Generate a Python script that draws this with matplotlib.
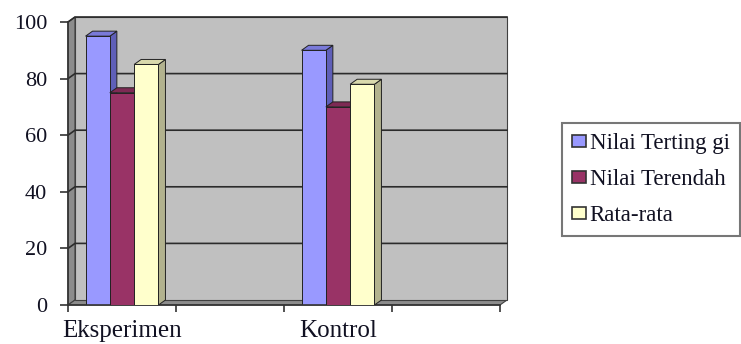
import numpy as np
import matplotlib
matplotlib.use('Agg')
import matplotlib.pyplot as plt

plt.rcParams['font.family'] = ['Liberation Serif', 'DejaVu Serif']

categories = ['Eksperimen', 'Kontrol']
cat_pos = [0, 2]          # 4 category slots on the axis, two are empty
series = ['Nilai Terting gi', 'Nilai Terendah', 'Rata-rata']
tertinggi = [95, 90]
terendah = [75, 70]
rata = [85, 78]
values = [tertinggi, terendah, rata]

front = ['#9999FF', '#993366', '#FFFFCC']
side = ['#5F5FB8', '#6A2347', '#B2B28E']
top = ['#7A7AD9', '#7E2A54', '#D9D9AD']

fig = plt.figure(figsize=(7.41, 3.44), dpi=100)
ax = fig.add_axes([68 / 741, 39 / 344, 432 / 741, 283 / 344])
ax.set_xlim(-0.5, 3.5)
ax.set_ylim(0, 100)
ax.set_facecolor('none')

# 3d depth offset in data units
ddx = 7 / 108
ddy = 5 / 2.83
x0, x1 = -0.5, 3.5
wall = '#C0C0C0'

# side wall, floor, back wall
ax.fill([x0, x0, x0 + ddx, x0 + ddx], [0, 100, 100 + ddy, ddy],
        color='#8C8C8C', ec='#404040', lw=0.8, clip_on=False, zorder=0)
ax.fill([x0, x1, x1 + ddx, x0 + ddx], [0, 0, ddy, ddy],
        color='#8C8C8C', ec='#404040', lw=0.8, clip_on=False, zorder=0)
ax.fill([x0 + ddx, x1 + ddx, x1 + ddx, x0 + ddx], [ddy, ddy, 100 + ddy, 100 + ddy],
        color=wall, ec='#404040', lw=0.8, clip_on=False, zorder=0)
for v in range(20, 101, 20):
    ax.plot([x0, x0 + ddx, x1 + ddx], [v, v + ddy, v + ddy], color='#2b2b2b',
            lw=1.2, clip_on=False, zorder=1)

w = 0.225
for i, vals in enumerate(values):
    off = (i - 1) * w
    for p, h in zip(cat_pos, vals):
        xl = p + off - w / 2
        xr = xl + w
        ax.fill([xr, xr + ddx, xr + ddx, xr], [0, ddy, h + ddy, h],
                color=side[i], ec='#222222', lw=0.7, zorder=2 + i)
        ax.fill([xl, xr, xr + ddx, xl + ddx], [h, h, h + ddy, h + ddy],
                color=top[i], ec='#222222', lw=0.7, zorder=2 + i)
        ax.fill([xl, xr, xr, xl], [0, 0, h, h],
                color=front[i], ec='#222222', lw=0.7, zorder=2 + i)

for s in ['top', 'right']:
    ax.spines[s].set_visible(False)
for s in ['left', 'bottom']:
    ax.spines[s].set_color('#333333')
    ax.spines[s].set_linewidth(1.2)

ax.set_yticks(range(0, 101, 20))
ax.tick_params(axis='y', direction='out', length=6, width=1.2, color='#333333',
               labelsize=16, labelcolor='#111122', pad=9)
ax.set_xticks(np.arange(-0.5, 4, 1))
ax.set_xticklabels([])
ax.set_xticks(cat_pos, minor=True)
ax.set_xticklabels(categories, minor=True)
ax.tick_params(axis='x', which='major', direction='out', length=5, width=1.2,
               color='#333333')
ax.tick_params(axis='x', which='minor', length=0, labelsize=18,
               labelcolor='#111122', pad=11)

handles = [plt.Rectangle((0, 0), 1, 1, fc=front[i], ec='#333333', lw=1.2)
           for i in range(3)]
leg = fig.legend(handles, series, loc='upper left',
                 bbox_to_anchor=(562 / 741, 1 - 123 / 344),
                 fontsize=16.5, handlelength=0.6, handleheight=0.45,
                 handletextpad=0.15, labelspacing=0.65, borderpad=0.45,
                 fancybox=False, borderaxespad=0, labelcolor='#111122')
leg.get_frame().set_edgecolor('#555555')
leg.get_frame().set_linewidth(1.5)

fig.savefig('out.png', dpi=100)
